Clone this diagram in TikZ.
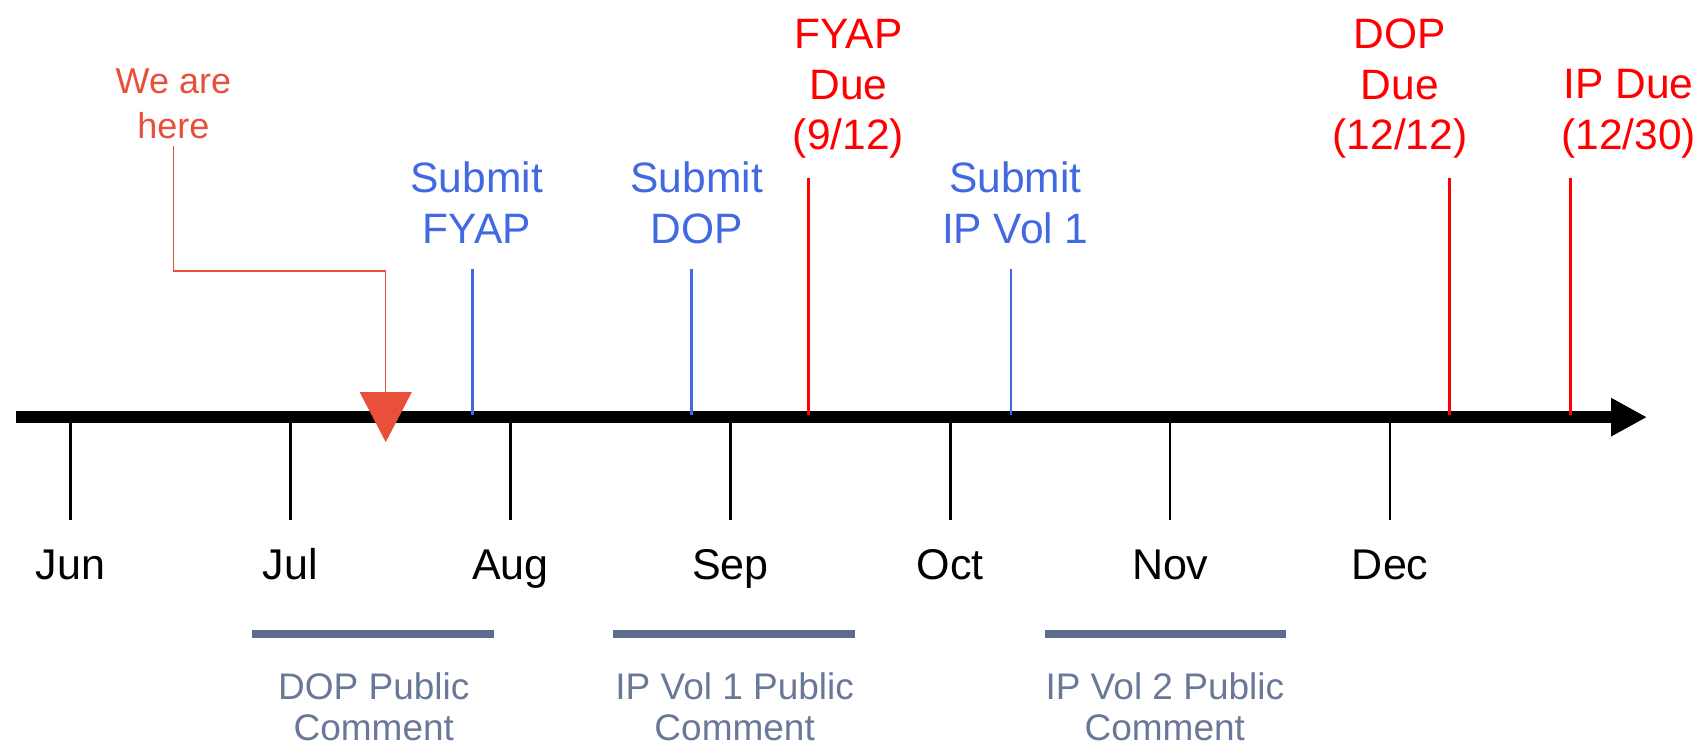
\documentclass[tikz,border=0pt]{standalone}
\usepackage{fontspec}
\setmainfont{Liberation Sans}
\usetikzlibrary{arrows.meta}
\definecolor{subblue}{HTML}{4169E1}
\definecolor{duered}{HTML}{FF0000}
\definecolor{hereorange}{HTML}{E8503A}
\definecolor{barslate}{HTML}{5D6C8C}
\definecolor{txtslate}{HTML}{6A7898}
\tikzset{
  every node/.style={inner sep=0pt, outer sep=0pt},
  month/.style={font=\fontsize{43}{48}\selectfont, text=black, anchor=base},
  bluelbl/.style={font=\fontsize{42.5}{51}\selectfont, text=subblue, align=center},
  redlbl/.style={font=\fontsize{42.5}{50.5}\selectfont, text=duered, align=center},
  herelbl/.style={font=\fontsize{36}{45}\selectfont, text=hereorange, align=center},
  commentlbl/.style={font=\fontsize{37}{41}\selectfont, text=txtslate, align=center},
  tickline/.style={line width=2.5pt, black},
  blueline/.style={line width=2.5pt, subblue},
  redline/.style={line width=3pt, duered},
  commentbar/.style={line width=7.6pt, barslate},
  axisline/.style={line width=12pt, black, -{Triangle[length=36pt,width=36pt]}},
}
\begin{document}
\begin{tikzpicture}[x=1.0835pt, y=-1.0835pt]
\useasboundingbox (0,0) rectangle (1568,684);
% axis
\coordinate (axs) at (15,385);
\coordinate (axe) at (1520,385);
\draw[axisline] (axs) -- (axe);
% months
\foreach \m/\x in {Jun/65, Jul/268, Aug/471, Sep/674, Oct/877, Nov/1080, Dec/1283}{
  \node[month] (m\m) at (\x,535) {\m};
  \coordinate (t\m a) at (\x,390);
  \coordinate (t\m b) at (\x,480);
  \draw[tickline] (t\m a) -- (t\m b);
}
% submit labels
\node[bluelbl] (sfyap) at (440,187) {Submit\\FYAP};
\node[bluelbl] (sdop) at (643,187) {Submit\\DOP};
\node[bluelbl] (sip) at (937,187) {Submit\\IP Vol 1};
\foreach \n/\x in {fyap/436, dop/638, ip/933}{
  \coordinate (b\n a) at (\x,248);
  \coordinate (b\n b) at (\x,383);
  \draw[blueline] (b\n a) -- (b\n b);
}
% due labels
\node[redlbl] (dfyap) at (783,82) {FYAP\\Due\\(9/12)};
\node[redlbl] (ddop) at (1292,82) {DOP\\Due\\(12/12)};
\node[redlbl] (dip) at (1503,105) {IP Due\\(12/30)};
\foreach \n/\x in {fyap/746, dop/1338, ip/1449}{
  \coordinate (r\n a) at (\x,164);
  \coordinate (r\n b) at (\x,383);
  \draw[redline] (r\n a) -- (r\n b);
}
% we are here
\node[herelbl] (here) at (160,96) {We are\\here};
\coordinate (hstart) at (160,135);
\coordinate (elbow) at (356,250);
\coordinate (tri) at (356,362);
\draw[hereorange, line width=1.4pt] (hstart) |- (elbow) -- (tri);
\fill[hereorange] (332,362) -- (380,362) -- (356,408) -- cycle;
% public comment bars
\foreach \n/\a/\b in {dop/233/456, ipa/566/789, ipb/964/1187}{
  \coordinate (c\n a) at (\a,585);
  \coordinate (c\n b) at (\b,585);
  \draw[commentbar] (c\n a) -- (c\n b);
}
\node[commentlbl] (cldop) at (345,652) {DOP Public\\Comment};
\node[commentlbl] (clipa) at (678,652) {IP Vol 1 Public\\Comment};
\node[commentlbl] (clipb) at (1075,652) {IP Vol 2 Public\\Comment};
\end{tikzpicture}
\end{document}
